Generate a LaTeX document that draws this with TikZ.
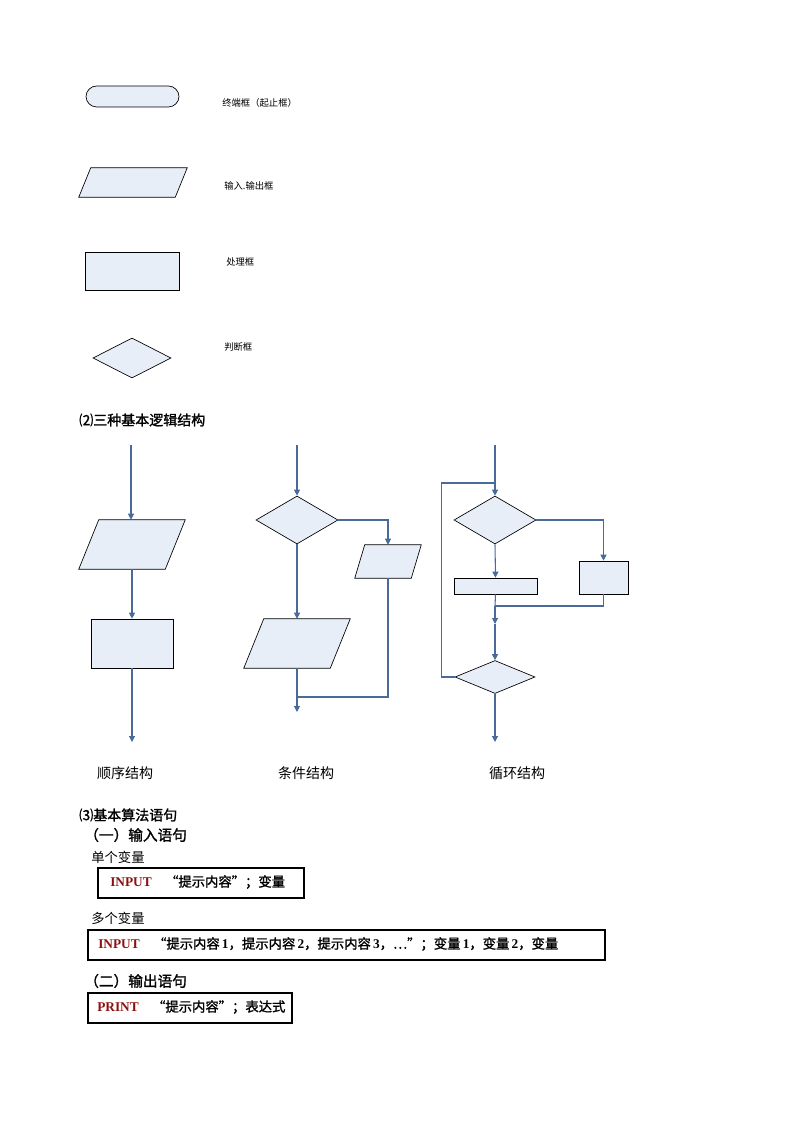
\documentclass[tikz,border=0pt]{standalone}
\usepackage{fontspec}
\setmainfont[AutoFakeBold=1.5]{Noto Sans CJK SC}
\newfontfamily\ser{Liberation Serif}
\usetikzlibrary{shapes.geometric,arrows.meta}
\definecolor{fillb}{HTML}{E8EEF8}
\definecolor{lineb}{HTML}{4A6A9A}
\definecolor{dred}{HTML}{8B1010}
\tikzset{
 shp/.style={draw=black,fill=fillb,line width=0.5pt},
 box/.style={shp,rectangle,inner sep=0pt},
 dia/.style={shp,diamond,inner sep=0pt},
 area/.style={rectangle,inner sep=0pt},
 con/.style={draw=lineb,line width=0.8pt},
 arr/.style={con,-{Triangle[width=4.5pt,length=4.5pt]}},
 lbl/.style={anchor=west,inner sep=0pt,font=\fontsize{7}{8}\selectfont},
 slbl/.style={anchor=center,inner sep=0pt,font=\fontsize{10.5}{12}\selectfont},
 hd/.style={anchor=west,inner sep=0pt,font=\bfseries\fontsize{10.5}{12}\selectfont},
 stm/.style={draw=black,line width=1.2pt,rectangle,inner sep=0pt,anchor=north west},
 stt/.style={anchor=west,inner sep=0pt,font=\bfseries\fontsize{10}{12}\selectfont},
}
\begin{document}
\begin{tikzpicture}[x=0.75pt,y=-0.75pt]
\useasboundingbox (0,0) rectangle (794,1123);
% legend
\node[box,rounded corners=8pt,minimum width={93*0.75pt},minimum height={21*0.75pt}] (lt) at (132.5,96.5) {};
\node[lbl] (ltl) at (222,103) {终端框（起止框）};
\node[area,minimum width={108*0.75pt},minimum height={29*0.75pt}] (lp) at (133,182.5) {};
\draw[shp] ([xshift={12*0.75pt}]lp.north west) -- (lp.north east) -- ([xshift={-12*0.75pt}]lp.south east) -- (lp.south west) -- cycle;
\node[lbl] (lpl) at (224,186) {输入.输出框};
\node[box,minimum width={94*0.75pt},minimum height={38*0.75pt}] (lr) at (132,271) {};
\node[lbl] (lrl) at (226,262) {处理框};
\node[dia,minimum width={78*0.75pt},minimum height={40*0.75pt}] (ld) at (132,358) {};
\node[lbl] (ldl) at (224,347) {判断框};
\node[hd] (h2) at (79,420) {⑵三种基本逻辑结构};
% sequence
\coordinate (s0) at (131,445);
\node[area,minimum width={106*0.75pt},minimum height={49*0.75pt}] (sp) at (132,544.5) {};
\draw[shp] ([xshift={20*0.75pt}]sp.north west) -- (sp.north east) -- ([xshift={-20*0.75pt}]sp.south east) -- (sp.south west) -- cycle;
\node[box,minimum width={82*0.75pt},minimum height={49*0.75pt}] (sr) at (132,643.5) {};
\coordinate (se) at (132,742);
\draw[arr] (s0) -- (s0 |- sp.north);
\draw[arr] (sp.south -| sr.north) -- (sr.north);
\draw[arr] (sr.south) -- (se);
\node[slbl] (sl) at (125,773) {顺序结构};
% condition
\coordinate (c0) at (297,445);
\node[dia,minimum width={82*0.75pt},minimum height={48*0.75pt}] (cd) at (297,520) {};
\node[area,minimum width={66*0.75pt},minimum height={33*0.75pt}] (cq2) at (388,561.5) {};
\draw[shp] ([xshift={10*0.75pt}]cq2.north west) -- (cq2.north east) -- ([xshift={-10*0.75pt}]cq2.south east) -- (cq2.south west) -- cycle;
\node[area,minimum width={106*0.75pt},minimum height={49*0.75pt}] (cq1) at (297,643.5) {};
\draw[shp] ([xshift={20*0.75pt}]cq1.north west) -- (cq1.north east) -- ([xshift={-20*0.75pt}]cq1.south east) -- (cq1.south west) -- cycle;
\coordinate (cm) at (297,697);
\coordinate (ce) at (297,712);
\draw[arr] (c0) -- (cd.north);
\draw[arr] (cd.east) -| (cq2.north);
\draw[arr] (cd.south) -- (cq1.north);
\draw[arr] (cq1.south) -- (ce);
\draw[con] (cq2.south) |- (cm);
\node[slbl] (cl) at (306,773) {条件结构};
% loop
\coordinate (l0) at (495,445);
\coordinate (lj) at (495,483);
\node[dia,minimum width={82*0.75pt},minimum height={48*0.75pt}] (ld2) at (495,520) {};
\node[box,minimum width={83*0.75pt},minimum height={16*0.75pt}] (lb1) at (495.5,586) {};
\node[box,minimum width={49*0.75pt},minimum height={33*0.75pt}] (lb2) at (603.5,577.5) {};
\coordinate (lm) at (495,606);
\coordinate (la) at (495,624);
\node[dia,minimum width={80*0.75pt},minimum height={33*0.75pt}] (ld3) at (495,677) {};
\coordinate (le) at (495,742);
\draw[arr] (l0) -- (ld2.north);
\draw[con] (ld3.west) -- ++(-13,0) |- (lj);
\draw[arr] (ld2.east) -| (lb2.north);
\draw[arr] (ld2.south) -- (lb1.north);
\draw[con] (lb1.south) -- (lm);
\draw[con] (lb2.south) |- (lm);
\draw[arr] (lm) -- (la);
\draw[arr] (la) -- (ld3.north);
\draw[arr] (ld3.south) -- (le);
\node[slbl] (ll) at (517,773) {循环结构};
% statements
\node[hd] (h3) at (79,815) {⑶基本算法语句};
\node[hd,font=\bfseries\fontsize{11}{13}\selectfont] (h31) at (84,835) {（一）输入语句};
\node[anchor=west,inner sep=0pt,font=\fontsize{10}{12}\selectfont] (v1) at (91,857) {单个变量};
\node[stm,minimum width={206*0.75pt},minimum height={30*0.75pt}] (b1) at (97,867) {};
\node[stt] (t1) at (110,882) {{\ser\color{dred}INPUT}\hspace{1em}“提示内容”；变量};
\node[anchor=west,inner sep=0pt,font=\fontsize{10}{12}\selectfont] (v2) at (91,918) {多个变量};
\node[stm,minimum width={517*0.75pt},minimum height={30*0.75pt}] (b2) at (87,929) {};
\node[stt] (t2) at (98,944) {{\ser\color{dred}INPUT}\hspace{1em}“提示内容{\ser\,1}，提示内容{\ser\,2}，提示内容{\ser\,3}，…”；变量{\ser\,1}，变量{\ser\,2}，变量};
\node[hd,font=\bfseries\fontsize{11}{13}\selectfont] (h32) at (84,981) {（二）输出语句};
\node[stm,minimum width={204*0.75pt},minimum height={30*0.75pt}] (b3) at (87,992) {};
\node[stt] (t3) at (97,1007) {{\ser\color{dred}PRINT}\hspace{1em}“提示内容”；表达式};
\end{tikzpicture}
\end{document}
